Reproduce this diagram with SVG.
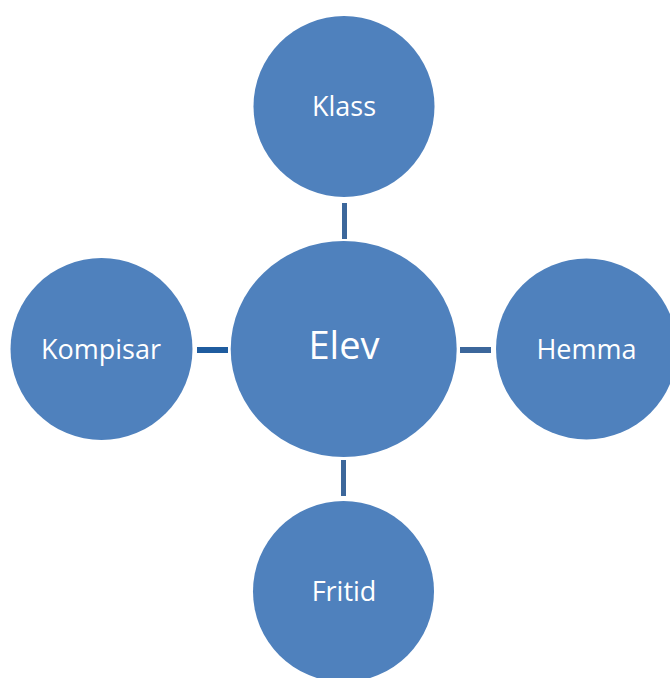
<svg xmlns="http://www.w3.org/2000/svg" width="670" height="678" viewBox="0 0 670 678">
<style>
.n{fill:#4F81BD;}
.t{font-family:"Open Sans","Noto Sans",sans-serif;font-size:27px;fill:#FFFFFF;text-anchor:middle;}
.big{font-size:38px;}
.c{fill:#3C679B;}
</style>
<rect width="670" height="678" fill="#FFFFFF"/>
<g id="connectors">
<rect class="c" x="342" y="203" width="5" height="36"/>
<rect class="c" x="341" y="460" width="5" height="36"/>
<rect x="197" y="347" width="31" height="6" fill="#1F5C9F"/>
<rect class="c" x="460" y="347" width="31" height="6"/>
</g>
<g id="klass"><circle class="n" cx="344" cy="106.5" r="90.5"/><text class="t" x="344" y="116">Klass</text></g>
<g id="elev"><ellipse class="n" cx="343.7" cy="349" rx="113" ry="108"/><text class="t big" x="344" y="359">Elev</text></g>
<g id="kompisar"><circle class="n" cx="101.5" cy="349" r="91"/><text class="t" x="101" y="359">Kompisar</text></g>
<g id="hemma"><circle class="n" cx="586.5" cy="349" r="90.5"/><text class="t" x="586.5" y="359">Hemma</text></g>
<g id="fritid"><circle class="n" cx="343.5" cy="591.5" r="90.5"/><text class="t" x="344" y="601">Fritid</text></g>
</svg>
